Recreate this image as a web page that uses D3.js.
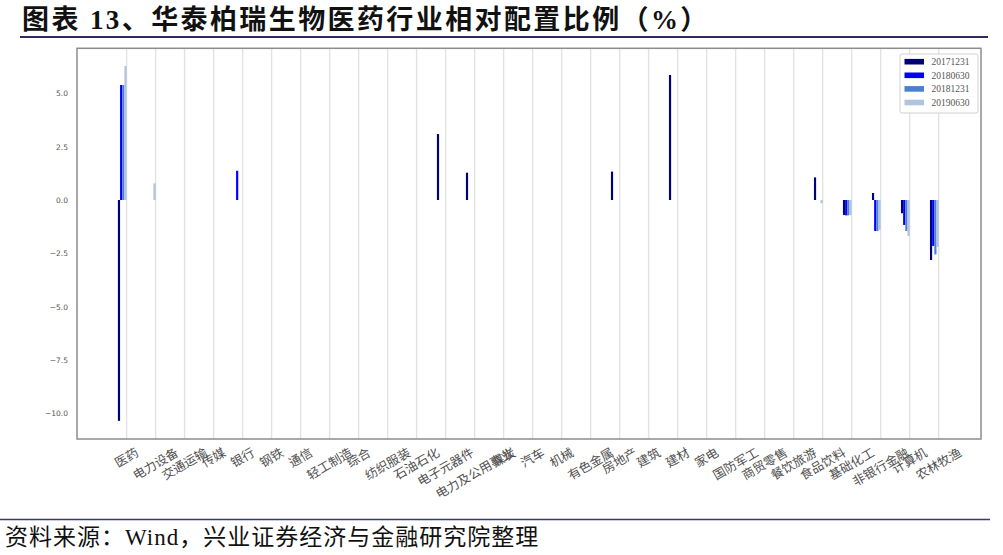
<!DOCTYPE html>
<html>
<head>
<meta charset="utf-8">
<script src="https://cdn.jsdelivr.net/npm/d3@7"></script>
<style>
body { margin: 0; background: #fff; }
</style>
</head>
<body>
<svg id="chart" width="1003" height="555"></svg>
<script>
// industries on the x axis, in plotted order
var industries = ['医药', '电力设备', '交通运输', '传媒', '银行', '钢铁', '通信', '轻工制造', '综合',
  '纺织服装', '石油石化', '电子元器件', '电力及公用事业', '煤炭', '汽车', '机械', '有色金属', '房地产',
  '建筑', '建材', '家电', '国防军工', '商贸零售', '餐饮旅游', '食品饮料', '基础化工', '非银行金融',
  '计算机', '农林牧渔'];

var seriesNames = ['20171231', '20180630', '20181231', '20190630'];

// relative allocation (%)
var v20171231 = [-10.35, 0, 0, 0, 0, 0, 0, 0, 0, 0, 0, 3.09, 1.28, 0, 0, 0, 0, 1.33, 0, 5.86,
  0, 0, 0, 0, 1.06, -0.7, 0.33, -0.62, -2.81];
var v20180630 = [5.39, 0, 0, 0, 1.37, 0, 0, 0, 0, 0, 0, 0, 0, 0, 0, 0, 0, 0, 0, 0,
  0, 0, 0, 0, 0, -0.72, -1.45, -1.17, -2.15];
var v20181231 = [5.39, 0, 0, 0, 0, 0, 0, 0, 0, 0, 0, 0, 0, 0, 0, 0, 0, 0, 0, 0,
  0, 0, 0, 0, 0, -0.72, -1.45, -1.45, -2.55];
var v20190630 = [6.28, 0.78, 0, 0, 0, 0, 0, 0, 0, 0, 0, 0, 0, 0, 0, 0, 0, 0, 0, 0,
  0, 0, 0, 0, -0.15, -0.7, -1.4, -1.69, -2.2];

var yTicks = [-10, -7.5, -5, -2.5, 0, 2.5, 5];

var seriesValues = [v20171231, v20180630, v20181231, v20190630];
var seriesColors = ['#000078', '#0000ff', '#4a7fd4', '#b0c4de'];

drawChart();

function drawChart() {
  var svg = d3.select('#chart');
  svg.append('rect').attr('width', 1003).attr('height', 555).attr('fill', '#fff');

  // title + rule
  svg.append('text')
    .attr('x', 22)
    .attr('y', 29)
    .attr('font-family', '"Liberation Serif", "Noto Sans CJK SC"')
    .attr('font-weight', 'bold')
    .attr('font-size', 27)
    .attr('letter-spacing', 2.4)
    .attr('fill', '#111')
    .text('图表 13、华泰柏瑞生物医药行业相对配置比例（%）');
  svg.append('line')
    .attr('x1', 20).attr('x2', 988)
    .attr('y1', 37).attr('y2', 37)
    .attr('stroke', '#2e2e5e').attr('stroke-width', 2.2);

  var pLeft = 77, pRight = 981, pTop = 48.3, pBottom = 439;

  var x = d3.scaleLinear().domain([-1.71, 29.46]).range([pLeft, pRight]);
  var y = d3.scaleLinear().domain([-11.2, 7.11]).range([pBottom, pTop]);

  // vertical grid at each category
  svg.append('g')
    .selectAll('line')
    .data(industries)
    .enter()
    .append('line')
    .attr('x1', function(d, i) { return x(i); })
    .attr('x2', function(d, i) { return x(i); })
    .attr('y1', pTop)
    .attr('y2', pBottom)
    .attr('stroke', '#e2e2e2')
    .attr('stroke-width', 1.4);

  // bars: four thin bars sitting just left of each tick
  var barW = 0.075;
  seriesValues.forEach(function(vals, k) {
    svg.append('g')
      .selectAll('rect')
      .data(vals)
      .enter()
      .append('rect')
      .attr('x', function(d, i) { return x(i - 0.3 + k * barW); })
      .attr('width', x(barW) - x(0))
      .attr('y', function(d) { return y(Math.max(d, 0)); })
      .attr('height', function(d) { return Math.abs(y(d) - y(0)); })
      .attr('fill', seriesColors[k]);
  });

  // frame
  svg.append('rect')
    .attr('x', pLeft).attr('y', pTop)
    .attr('width', pRight - pLeft).attr('height', pBottom - pTop)
    .attr('fill', 'none')
    .attr('stroke', '#8c8c8c')
    .attr('stroke-width', 1.5);

  // y axis labels
  var yAxis = svg.append('g')
    .attr('transform', 'translate(' + pLeft + ',0)')
    .call(d3.axisLeft(y).tickValues(yTicks).tickSize(0).tickPadding(9).tickFormat(d3.format('.1f')));
  yAxis.select('.domain').remove();
  yAxis.selectAll('text')
    .attr('font-family', '"DejaVu Sans"')
    .attr('font-size', 7.5)
    .attr('fill', '#555');

  // x labels, rotated 30deg, bbox centred on the tick (matplotlib style)
  var fs = 12.5;
  var rad = Math.PI / 6;
  var xl = svg.append('g');
  industries.forEach(function(name, i) {
    var g = xl.append('g');
    var t = g.append('text')
      .attr('text-anchor', 'middle')
      .attr('dy', '0.35em')
      .attr('font-family', '"Noto Sans CJK SC"')
      .attr('font-size', fs)
      .attr('fill', '#505050')
      .text(name);
    var w = t.node().getComputedTextLength();
    var bh = w * Math.sin(rad) + fs * Math.cos(rad);
    g.attr('transform', 'translate(' + x(i) + ',' + (pBottom + 7 + bh / 2) + ') rotate(-30)');
  });

  // legend
  var lg = svg.append('g');
  lg.append('rect')
    .attr('x', 900).attr('y', 54)
    .attr('width', 78).attr('height', 59)
    .attr('rx', 2)
    .attr('fill', '#fff')
    .attr('stroke', '#d0d0d0');
  seriesNames.forEach(function(name, k) {
    var cy = 61.7 + k * 13.6;
    lg.append('rect')
      .attr('x', 904.5).attr('y', cy - 2.8)
      .attr('width', 19.5).attr('height', 5.6)
      .attr('fill', seriesColors[k]);
    lg.append('text')
      .attr('x', 931.5).attr('y', cy)
      .attr('dy', '0.35em')
      .attr('font-family', '"Liberation Serif"')
      .attr('font-size', 9.5)
      .attr('fill', '#555')
      .text(name);
  });

  // source line
  svg.append('line')
    .attr('x1', 0).attr('x2', 990)
    .attr('y1', 519.5).attr('y2', 519.5)
    .attr('stroke', '#3b3b6b').attr('stroke-width', 1.5);
  svg.append('text')
    .attr('x', 5)
    .attr('y', 545)
    .attr('font-family', '"Liberation Serif", "Noto Sans CJK SC"')
    .attr('font-size', 23)
    .attr('letter-spacing', 1)
    .attr('fill', '#111')
    .text('资料来源：Wind，兴业证券经济与金融研究院整理');
}
</script>
</body>
</html>
